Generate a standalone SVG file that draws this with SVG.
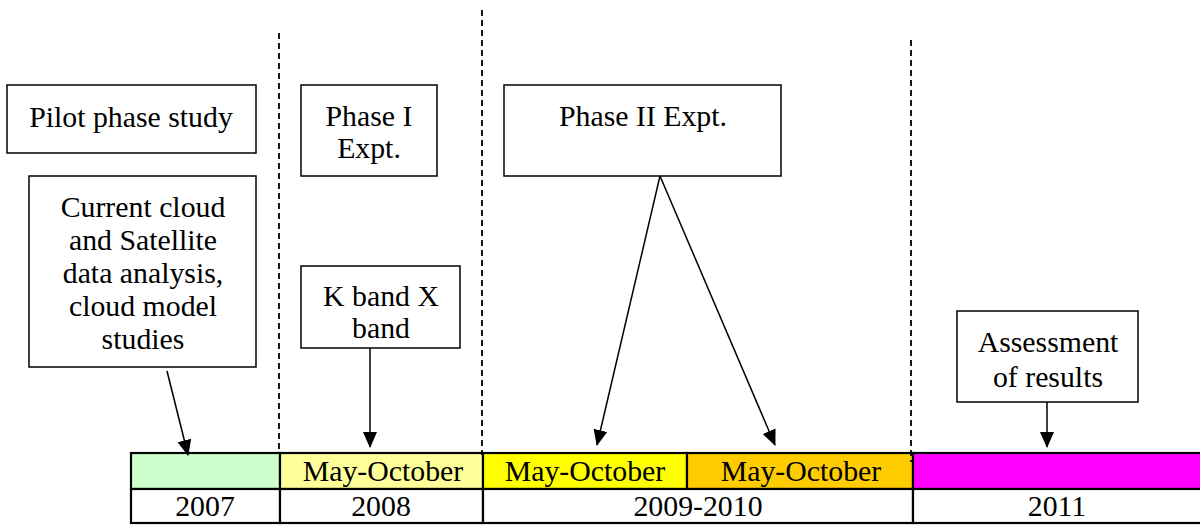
<svg xmlns="http://www.w3.org/2000/svg" width="1200" height="525" viewBox="0 0 1200 525">
<style>
text{font-family:"Liberation Serif","Times New Roman",serif;font-size:29.8px;fill:#000;text-anchor:middle}
.box{fill:#fff;stroke:#000;stroke-width:1.5}
.cell{stroke:#000;stroke-width:2.2}
.dash{stroke:#000;stroke-width:1.8;stroke-dasharray:6,4;fill:none}
.conn{stroke:#000;stroke-width:1.5;fill:none;marker-end:url(#arr)}
</style>
<defs>
<marker id="arr" markerUnits="userSpaceOnUse" markerWidth="16" markerHeight="16" viewBox="0 0 16 16" refX="15" refY="8" orient="auto">
<path d="M0,1 L16,8 L0,15 Z" fill="#000"/>
</marker>
</defs>
<rect width="1200" height="525" fill="#fff"/>
<g id="timeline">
<rect class="cell" x="131" y="453" width="149" height="36" fill="#CCFFCC"/>
<rect class="cell" x="280" y="453" width="203" height="36" fill="#FFFF99"/>
<rect class="cell" x="483" y="453" width="204" height="36" fill="#FFFF00"/>
<rect class="cell" x="687" y="453" width="226" height="36" fill="#FFCC00"/>
<rect class="cell" x="913" y="453" width="290" height="36" fill="#FF00FF"/>
<rect class="cell" x="131" y="489" width="149" height="34" fill="#fff"/>
<rect class="cell" x="280" y="489" width="203" height="34" fill="#fff"/>
<rect class="cell" x="483" y="489" width="430" height="34" fill="#fff"/>
<rect class="cell" x="913" y="489" width="290" height="34" fill="#fff"/>
<text x="383" y="481">May-October</text>
<text x="585" y="481">May-October</text>
<text x="801" y="481">May-October</text>
<text x="205" y="516">2007</text>
<text x="381" y="516">2008</text>
<text x="698" y="516">2009-2010</text>
<text x="1057" y="516">2011</text>
</g>
<g id="dividers">
<line class="dash" x1="279" y1="33" x2="279" y2="453"/>
<line class="dash" x1="482" y1="10" x2="482" y2="455"/>
<line class="dash" x1="911" y1="40" x2="911" y2="462"/>
</g>
<g id="pilot">
<rect class="box" x="7" y="85" width="249" height="68"/>
<text x="131" y="127">Pilot phase study</text>
</g>
<g id="current">
<rect class="box" x="29" y="176" width="227" height="191"/>
<text x="143" y="217">Current cloud</text>
<text x="143" y="250">and Satellite</text>
<text x="143" y="283">data analysis,</text>
<text x="143" y="316">cloud model</text>
<text x="143" y="349">studies</text>
</g>
<g id="phase1">
<rect class="box" x="301" y="85" width="136" height="91"/>
<text x="369" y="126">Phase I</text>
<text x="369" y="158">Expt.</text>
</g>
<g id="kband">
<rect class="box" x="301" y="266" width="159" height="82"/>
<text x="381" y="306">K band X</text>
<text x="381" y="338">band</text>
</g>
<g id="phase2">
<rect class="box" x="504" y="85" width="277" height="91"/>
<text x="643" y="126">Phase II Expt.</text>
</g>
<g id="assess">
<rect class="box" x="957" y="311" width="181" height="91"/>
<text x="1048" y="352">Assessment</text>
<text x="1048" y="387">of results</text>
</g>
<g id="connectors">
<line class="conn" x1="167" y1="371" x2="188" y2="455"/>
<line class="conn" x1="370" y1="348" x2="370" y2="447"/>
<line class="conn" x1="660" y1="176" x2="597" y2="445"/>
<line class="conn" x1="660" y1="176" x2="775" y2="445"/>
<line class="conn" x1="1047" y1="402" x2="1047" y2="447"/>
</g>
</svg>
